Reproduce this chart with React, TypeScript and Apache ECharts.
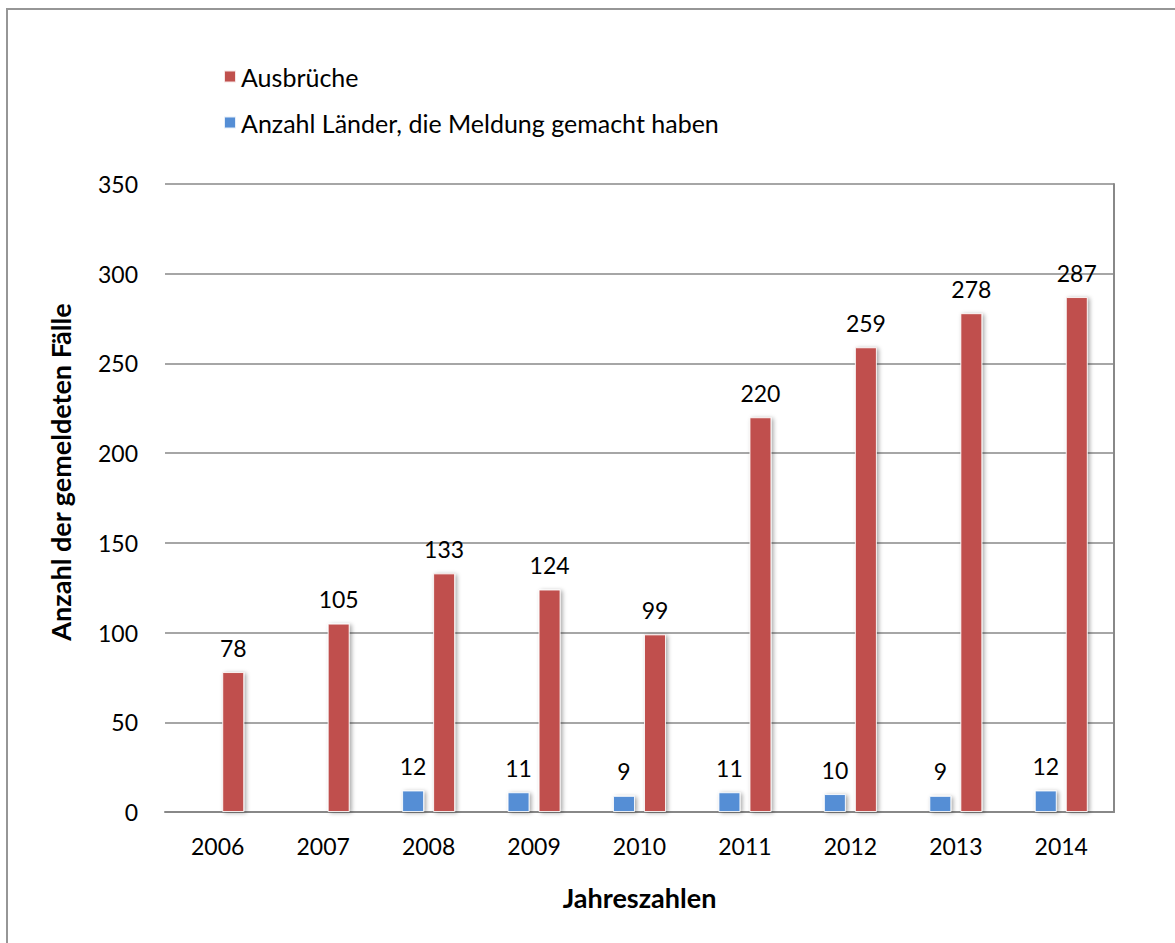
import React, { useEffect, useRef } from "react";
import * as echarts from "echarts";

const years = ["2006", "2007", "2008", "2009", "2010", "2011", "2012", "2013", "2014"];
const outbreaks = [78, 105, 133, 124, 99, 220, 259, 278, 287];
const countries: (number | null)[] = [null, null, 12, 11, 9, 11, 10, 9, 12];
const seriesNames = ["Ausbrüche", "Anzahl Länder, die Meldung gemacht haben"];
const yTitle = "Anzahl der gemeldeten Fälle";
const xTitle = "Jahreszahlen";

const FONT = "Lato";

export default function App() {
  const ref = useRef<HTMLDivElement>(null);
  useEffect(() => {
    if (!ref.current) return;
    const chart = echarts.init(ref.current, null, { renderer: "svg" });
    const barShadow = {
      shadowBlur: 4,
      shadowColor: "rgba(0,0,0,0.35)",
      shadowOffsetX: 2,
      shadowOffsetY: 1,
      borderColor: "rgba(255,255,255,0.85)",
      borderWidth: 1,
    };
    const label = {
      show: true,
      position: "top",
      distance: 13,
      color: "#000",
      fontSize: 23,
      fontFamily: FONT,
    };
    chart.setOption({
      animation: false,
      backgroundColor: "#fff",
      textStyle: { fontFamily: FONT },
      graphic: [
        {
          type: "rect",
          shape: { x: 7, y: 9, width: 1300, height: 1100 },
          style: { fill: "none", stroke: "#969696", lineWidth: 2 },
          silent: true,
        },
      ],
      legend: {
        orient: "vertical",
        left: 218,
        top: 59,
        icon: "rect",
        itemWidth: 12,
        itemHeight: 12,
        itemGap: 21,
        data: [seriesNames[0], seriesNames[1]],
        textStyle: { color: "#000", fontSize: 25, fontFamily: FONT },
      },
      grid: { left: 165, right: 61, top: 184, bottom: 131 },
      xAxis: {
        type: "category",
        data: years,
        name: xTitle,
        nameLocation: "middle",
        nameGap: 72,
        nameTextStyle: { fontSize: 27, fontWeight: "bold", color: "#000", fontFamily: FONT },
        axisLine: { show: true, lineStyle: { color: "#888", width: 2 } },
        axisTick: { show: false },
        axisLabel: { color: "#000", fontSize: 23, margin: 22, fontFamily: FONT },
      },
      yAxis: [
        {
          type: "value",
          min: 0,
          max: 350,
          interval: 50,
          name: yTitle,
          nameLocation: "middle",
          nameGap: 91,
          nameRotate: 90,
          nameTextStyle: {
            fontSize: 27,
            fontWeight: "bold",
            color: "#000",
            fontFamily: FONT,
            padding: [0, 0, 0, 52],
          },
          axisLine: { show: false },
          axisTick: { show: false },
          axisLabel: { color: "#000", fontSize: 23, margin: 27, fontFamily: FONT },
          splitLine: { lineStyle: { color: "#888", width: 1.5 } },
        },
        {
          type: "value",
          min: 0,
          max: 350,
          interval: 50,
          position: "right",
          axisLine: { show: true, lineStyle: { color: "#888", width: 2 } },
          axisTick: { show: false },
          axisLabel: { show: false },
          splitLine: { show: false },
        },
      ],
      series: [
        {
          name: seriesNames[1],
          type: "bar",
          data: countries,
          barWidth: 22,
          barGap: "41%",
          itemStyle: { color: "#558ED5", ...barShadow },
          label,
        },
        {
          name: seriesNames[0],
          type: "bar",
          data: outbreaks,
          barWidth: 22,
          barGap: "41%",
          itemStyle: { color: "#C0504D", ...barShadow },
          label,
        },
      ],
    });
    return () => chart.dispose();
  }, []);
  return (
    <div
      ref={ref}
      style={{ position: "fixed", left: 0, top: 0, width: 1175, height: 943 }}
    />
  );
}
